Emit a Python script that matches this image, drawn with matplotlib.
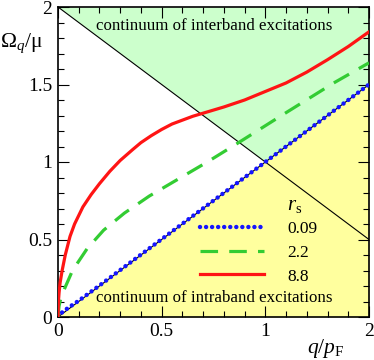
import numpy as np
import matplotlib.pyplot as plt

plt.rcParams['font.family'] = ['Liberation Serif', 'DejaVu Serif']
plt.rcParams['mathtext.fontset'] = 'custom'
plt.rcParams['mathtext.rm'] = 'Liberation Serif'
plt.rcParams['mathtext.it'] = 'Liberation Serif:italic'

# plasmon dispersion (q/pF, Omega/mu)
q_009 = [0, 0.02, 0.05, 0.1, 0.2, 0.5, 1.0, 1.5]
w_009 = [0, 0.03, 0.06, 0.105, 0.203, 0.502, 1.0, 1.5]

q_22 = [0, 0.005, 0.015, 0.034, 0.07, 0.14, 0.22, 0.32, 0.44, 0.58, 0.72, 0.865, 1.09, 1.33, 1.5]
w_22 = [0, 0.07, 0.13, 0.19, 0.30, 0.44, 0.56, 0.67, 0.78, 0.89, 1.0, 1.12, 1.31, 1.51, 1.64]

q_88 = [0, 0.002, 0.005, 0.01, 0.02, 0.035, 0.058, 0.08, 0.12, 0.16, 0.2, 0.25, 0.3, 0.36,
        0.4, 0.45, 0.5, 0.55, 0.6, 0.65, 0.7, 0.75, 0.8, 0.9, 1.0, 1.1, 1.2, 1.3, 1.4, 1.5]
w_88 = [0, 0.1, 0.155, 0.22, 0.3, 0.4, 0.52, 0.6, 0.71, 0.79, 0.86, 0.94, 1.01, 1.08,
        1.125, 1.17, 1.21, 1.245, 1.27, 1.295, 1.315, 1.335, 1.355, 1.4, 1.455, 1.51, 1.58, 1.66, 1.745, 1.84]

rs_labels = ['0.09', '2.2', '8.8']
xtick_pos = [0, 0.5, 1, 1.5]
xtick_labels = ['0', '0.5', '1', '2']
ytick_pos = [0, 0.5, 1, 1.5, 2]
ytick_labels = ['0', '0.5', '1', '1.5', '2']

fig = plt.figure(figsize=(3.74, 3.6), dpi=100)
ax = fig.add_axes([58/374, 43/360, 311/374, 310/360])

# continua
q = np.linspace(0, 1.5, 301)
ax.fill_between(q, 0, q, color='#ffff9e', lw=0, zorder=0)
ax.fill_between(q, np.maximum(q, 2 - q), 2, color='#ccffcc', lw=0, zorder=0)
ax.plot(q, 2 - q, color='black', lw=0.8, zorder=1)
ax.plot(q, q, color='black', lw=0.8, zorder=1)

ax.plot(q_009, w_009, color='#1515ff', lw=3.2, linestyle=(0, (0.01, 1.35)),
        dash_capstyle='round', label=rs_labels[0], zorder=3)
ax.plot(q_22, w_22, color='#33cc33', lw=2.3, linestyle=(0, (5.5, 3.5)),
        label=rs_labels[1], zorder=3)
ax.plot(q_88, w_88, color='#ff1414', lw=2.3, label=rs_labels[2], zorder=3)

ax.text(0.752, 1.875, 'continuum of interband excitations', ha='center', va='center', fontsize=12.2)
ax.text(0.752, 0.12, 'continuum of intraband excitations', ha='center', va='center', fontsize=12.2)

ax.set_xlim(0, 1.5)
ax.set_ylim(0, 2)
ax.set_xticks(xtick_pos)
ax.set_xticklabels(xtick_labels)
ax.set_yticks(ytick_pos)
ax.set_yticklabels(ytick_labels)
ax.set_xticks(np.arange(0, 1.51, 0.1), minor=True)
ax.set_yticks(np.arange(0, 2.01, 0.1), minor=True)
ax.tick_params(which='both', direction='in', top=True, right=True, width=0.8, labelsize=14)
ax.tick_params(which='major', length=8, pad=4)
ax.tick_params(which='minor', length=4.5)
for s in ax.spines.values():
    s.set_linewidth(1.2)

fig.text(0.0, (360 - 43)/360, 'Ω$_{q}$/μ', ha='left', va='center', fontsize=15.5)
fig.text(344/374, (360 - 349)/360, r'$q/p_{\mathrm{F}}$', ha='right', va='center', fontsize=15.5)

# legend with its title over the label column
ax.text(0.762, 0.36, r'$r_{\mathrm{s}}$', ha='center', va='center', fontsize=15,
        transform=ax.transAxes)
leg = ax.legend(frameon=False, fontsize=12.5, loc='center', bbox_to_anchor=(0.645, 0.208),
                handlelength=3.7, handletextpad=1.3, labelspacing=0.45, borderpad=0)

fig.savefig('out.png', dpi=100)
